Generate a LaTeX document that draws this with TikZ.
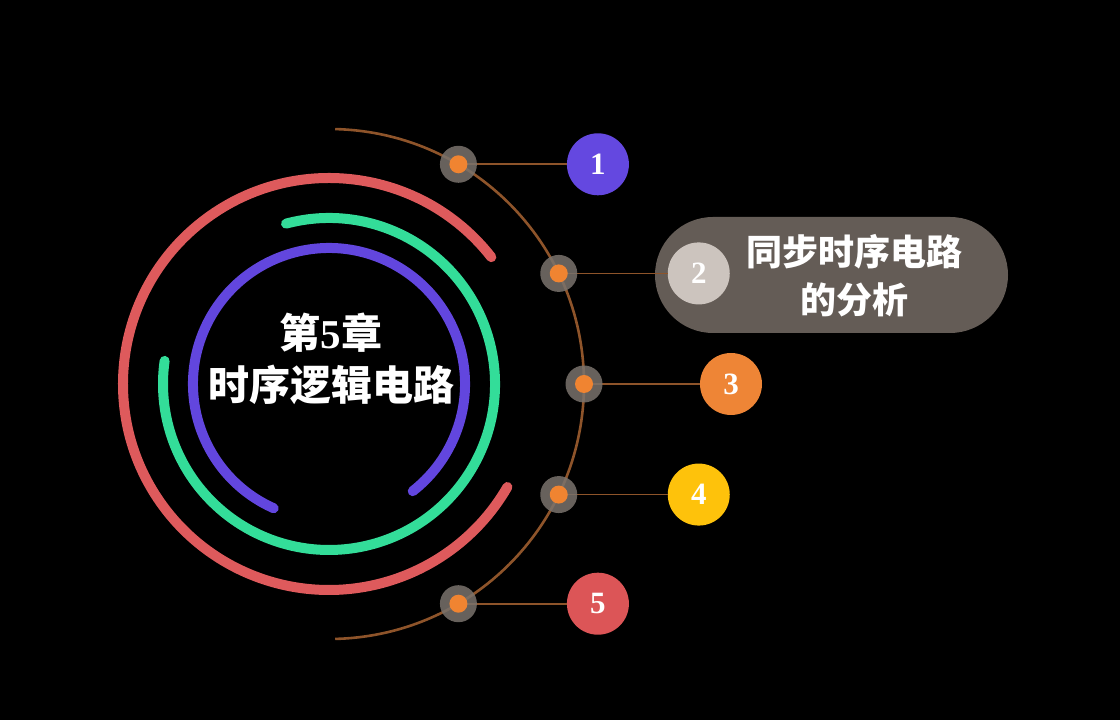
\documentclass[tikz,border=0pt]{standalone}
\usepackage{fontspec}
\setmainfont{Liberation Serif}
\newfontfamily\cjk{Noto Sans CJK SC}
\usetikzlibrary{calc}
\definecolor{ringred}{HTML}{DE5A5C}
\definecolor{ringgreen}{HTML}{33DD99}
\definecolor{ringblue}{HTML}{6246DE}
\definecolor{brownline}{HTML}{8E542A}
\definecolor{halo}{HTML}{7A736D}
\definecolor{dotorange}{HTML}{F08431}
\definecolor{cpurple}{HTML}{6448E0}
\definecolor{corange}{HTML}{EE8536}
\definecolor{cyellow}{HTML}{FEC20B}
\definecolor{cred}{HTML}{DC5557}
\definecolor{cgray}{HTML}{CCC4BE}
\definecolor{pill}{HTML}{645C56}
\tikzset{
  ring/.style={line width=10pt, line cap=round},
  halodot/.style={circle, fill=halo, fill opacity=0.85, minimum size=37pt, inner sep=0pt},
  coredot/.style={circle, fill=dotorange, minimum size=18pt, inner sep=0pt},
  numcirc/.style={circle, minimum size=62pt, inner sep=0pt, text=white, font=\fontsize{31}{31}\selectfont\bfseries},
  link/.style={draw=brownline, line width=1.8pt}
}
\begin{document}
\begin{tikzpicture}[x=1pt,y=1pt]
\fill[black] (0,0) rectangle (1120,720);
\useasboundingbox (0,0) rectangle (1120,720);
\coordinate (C) at (329,336);
% rings
\draw[ring, ringred] ($(C)+(38:206)$) arc[start angle=38, end angle=330, radius=206];
\draw[ring, ringgreen] ($(C)+(105:166)$) arc[start angle=105, end angle=-188, radius=166];
\draw[ring, ringblue] ($(C)+(246:136)$) arc[start angle=246, end angle=-52, radius=136];
% brown arc
\draw[brownline, line width=2.6pt] ($(C)+(88.6:255)$) arc[start angle=88.6, end angle=-88.6, radius=255];
% center title
\node[text=white, align=center, font=\cjk\bfseries\fontsize{41}{52}\selectfont] (title) at (331,361)
  {第{\rmfamily\bfseries 5}章\\时序逻辑电路};
% pill
\node[fill=pill, rounded corners=58pt, minimum width=353pt, minimum height=116pt, inner sep=0pt] (pillbox) at (831.5,445) {};
\node[text=white, align=center, font=\cjk\bfseries\fontsize{36}{48}\selectfont] (pilltext) at (854,444) {同步时序电路\\的分析};
% dots positions
\foreach \i/\a in {1/59.5, 2/25.7, 3/0, 4/-25.7, 5/-59.5} {
  \coordinate (p\i) at ($(C)+(\a:255)$);
}
% number circles
\path (p1) ++(139.5,0) node[numcirc, fill=cpurple] (n1) {1};
\path (p2) ++(140,0) node[numcirc, fill=cgray] (n2) {2};
\path (p3) ++(147,0) node[numcirc, fill=corange] (n3) {3};
\path (p4) ++(140,0) node[numcirc, fill=cyellow] (n4) {4};
\path (p5) ++(139.5,0) node[numcirc, fill=cred] (n5) {5};
\foreach \i in {1,...,5} {
  \draw[link] (p\i) -- (n\i.west);
  \node[halodot] (h\i) at (p\i) {};
  \node[coredot] (d\i) at (p\i) {};
}
\end{tikzpicture}
\end{document}
